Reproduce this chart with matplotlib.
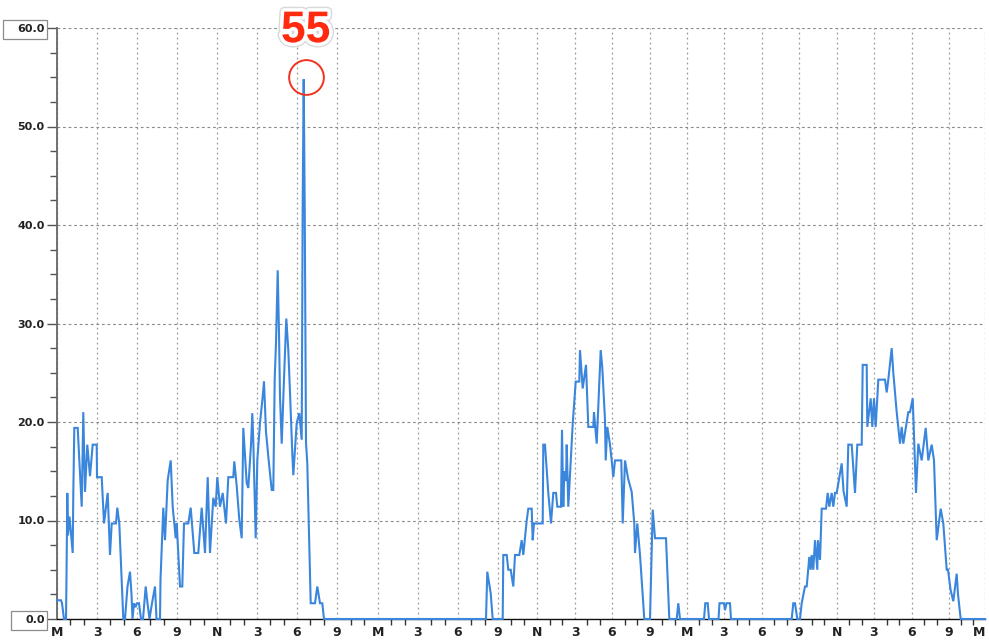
import numpy as np
import matplotlib
matplotlib.use("Agg")
import matplotlib.pyplot as plt
import matplotlib.patheffects as pe
from matplotlib.path import Path

# ---- data: sample index (irregularly sampled over 3 days) and values ----
sample_idx = [
    0, 4, 5, 7, 9, 9.5, 10.3, 11, 12.5, 15.7, 16.3, 17.3, 20.7, 23, 24.7, 26.3, 28, 30.3, 33, 35.7,
    39.7, 40, 44.7, 47, 50.7, 53, 54.7, 59, 60.3, 62.3, 66.3, 68, 70.5, 73, 74.5, 75.5, 77, 78.5, 80, 82,
    84, 86, 88.7, 90.5, 92.5, 95, 98, 99.5, 103, 103.5, 106.3, 108, 110.7, 113.7, 115.7, 118.7, 119.7,
    123, 125.3, 127, 131.3, 133.7, 137.3, 141.3, 144.7, 148, 150.7, 153, 156.3, 158.7, 160.3, 163,
    165.7, 169, 171.3, 176.3, 177.3, 179.7, 182.3, 184.7, 186.3, 189.7, 191.3, 194, 195.3, 196.3, 198.7,
    200.3, 203, 205.7, 207, 209, 211.3, 214.7, 216.3, 217.7, 219, 220.7, 222, 223, 224.7, 227, 229.3,
    231.3, 233, 235.3, 236.3, 239.7, 242.3, 244.7, 245.7, 246.7, 247.7, 248, 249, 250.3, 252.3, 253.7,
    258, 260.3, 263, 265.3, 267, 429, 430.3, 432.3, 433.7, 435.7, 445.7, 446.3, 449.7, 451.3, 453.7,
    456.3, 458, 462.3, 464.7, 466.3, 469.7, 471.3, 474.7, 475.7, 477, 485.7, 486.3, 488, 491.3, 494,
    496.3, 499, 500.3, 504, 505, 506.3, 507.3, 509, 509.7, 511.3, 515.7, 518.7, 522.3, 523, 525.7, 529,
    531.3, 536.3, 537, 539.7, 543.7, 545.3, 548, 548.7, 550.3, 553, 554.7, 556.3, 558, 564.3, 565.7,
    568, 571, 574.7, 577.3, 578, 580.3, 583, 587.3, 593, 595.7, 598, 609, 612.3, 619.7, 621.3, 623,
    647, 648.3, 650.7, 652, 661.5, 662.5, 667, 668, 669.5, 673, 674, 734.7, 736.3, 738, 740.3, 743,
    744.7, 748, 749.7, 752.3, 753.7, 754.7, 756.3, 758, 760.3, 761, 763, 764.7, 769, 770.7, 772.3,
    774.7, 776.3, 778, 779.7, 784.7, 786.5, 789.7, 791.3, 794.7, 798, 800.3, 804.7, 805.7, 809.7,
    810.3, 813.7, 815.3, 817, 818.7, 821.3, 828, 829.7, 831.3, 834.7, 836.3, 839.7, 843, 844.7, 846.3,
    849, 851.3, 853, 855.7, 859, 861.3, 864.7, 868.7, 871.3, 874.7, 877, 879.7, 883.7, 886.3, 889.7,
    891, 893.5, 896.3, 899.7, 901, 903.7, 928,
]
values = [
    1.9, 1.9, 1.6, 0, 0, 4.3, 12.8, 8.5, 10.4, 6.7, 12.8, 19.4, 19.4, 14.8, 11.4, 21.0, 12.9, 17.7, 14.5, 17.7,
    17.7, 14.4, 14.4, 9.7, 12.8, 6.5, 9.7, 9.7, 11.3, 9.7, 0, 0, 3.3, 4.8, 2.5, 0, 1.6, 1.2, 1.6, 1.6,
    0, 0, 3.3, 1.6, 0, 1.6, 3.3, 0, 0, 4.0, 11.3, 8.0, 14.1, 16.1, 11.4, 8.2, 9.7,
    3.3, 3.3, 9.7, 9.7, 11.3, 6.7, 6.7, 11.3, 6.7, 14.4, 6.7, 12.3, 11.4, 14.4, 11.4,
    12.8, 9.7, 14.4, 14.4, 16.0, 13.5, 10.1, 8.2, 19.4, 13.8, 13.3, 17.7, 20.9, 18.0, 8.2,
    16.1, 19.9, 22.6, 24.1, 19.0, 16.5, 13.1, 13.1, 24.4, 28.0, 35.4, 29.0, 22.6, 17.8, 24.4, 30.5,
    27.3, 23.0, 16.8, 14.6, 19.9, 20.9, 18.2, 42.5, 54.8, 42.0, 36.1, 17.9, 15.8, 7.3, 1.6,
    1.6, 3.3, 1.6, 1.6, 0, 0, 4.8, 3.5, 2.6, 0, 0, 6.5, 6.5, 5.0,
    5.0, 3.3, 6.5, 6.5, 8.0, 6.5, 10.0, 11.2, 11.2, 8.0, 9.7, 9.7, 17.7, 17.7, 12.8,
    9.7, 12.8, 12.8, 11.4, 11.4, 19.2, 11.4, 15.0, 14.0, 17.7, 11.4, 19.8, 24.1, 24.1, 27.3, 23.4,
    25.8, 19.5, 19.5, 21.0, 17.8, 27.3, 25.5, 20.2, 16.1, 19.5, 17.7, 16.1, 14.4, 16.1, 16.1, 9.7,
    16.1, 14.3, 12.9, 9.7, 6.7, 9.7, 6.5, 0, 0, 11.1, 8.2, 8.2, 0, 0, 1.6, 0,
    0, 1.6, 1.6, 0, 0, 1.6, 1.6, 0.9, 1.6, 1.6, 0, 0, 1.6, 1.6, 0, 0,
    1.6, 3.3, 3.3, 6.3, 5.0, 6.5, 5.0, 8.0, 5.0, 8.0, 6.0, 11.2, 11.2, 12.8, 11.4,
    12.8, 11.4, 12.8, 12.8, 15.8, 13.0, 11.4, 17.7, 17.7, 12.8, 17.7, 17.7, 25.8, 25.8, 19.5,
    22.4, 19.5, 22.4, 19.5, 24.3, 24.3, 23.0, 24.3, 27.5, 25.0, 21.0, 17.8, 19.5, 17.8, 19.5,
    21.0, 21.0, 22.4, 12.8, 17.8, 16.1, 19.4, 16.1, 17.7, 16.1, 8.0, 11.2, 9.7, 5.0, 5.0,
    3.0, 1.8, 4.6, 2.5, 0, 0,
]

# x tick positions (sample index where each hour label falls) and labels
tick_positions = [0, 40, 80, 120, 160, 200, 240, 280, 321, 361, 401, 441, 480,
                  518, 555, 593, 630, 667, 705, 742, 780, 817, 855, 892, 928]
tick_labels = ['M', '3', '6', '9', 'N', '3', '6', '9',
               'M', '3', '6', '9', 'N', '3', '6', '9',
               'M', '3', '6', '9', 'N', '3', '6', '9', 'M']
y_ticks = [0, 10, 20, 30, 40, 50, 60]
peak_label = "55"

# ---- figure ----
W, H = 989, 641
fig = plt.figure(figsize=(W / 100, H / 100), dpi=100)
ax = fig.add_axes([57 / W, 22 / H, 928 / W, 591 / H])

line_color = '#3a86dc'
ax.plot(sample_idx, values, color=line_color, lw=1.5, zorder=5, clip_on=False,
        solid_joinstyle='miter')

ax.set_xlim(tick_positions[0], tick_positions[-1])
ax.set_ylim(0, 60)

ax.set_xticks(tick_positions)
ax.set_xticklabels(tick_labels)
minor_x = []
for a, b in zip(tick_positions[:-1], tick_positions[1:]):
    minor_x += list(np.linspace(a, b, 4)[1:3])
ax.set_xticks(minor_x, minor=True)
ax.set_yticks(y_ticks)
ax.set_yticklabels([f"{v:.1f}" for v in y_ticks])
ax.set_yticks(np.arange(0, 60.1, 2.5), minor=True)

ax.grid(True, which='major', axis='x', color='#9a9a9a', lw=0.9, linestyle=(0, (1.5, 2.5)))
ax.grid(True, which='major', axis='y', color='#8a8a8a', lw=0.8, linestyle=(0, (2.5, 2.5)))
ax.set_axisbelow(True)

for s in ['top', 'right']:
    ax.spines[s].set_visible(False)
ax.spines['left'].set_color('#666666')
ax.spines['left'].set_linewidth(1.3)
ax.spines['bottom'].set_color('#111111')
ax.spines['bottom'].set_linewidth(1.0)

ax.tick_params(axis='x', which='major', length=0, pad=5, labelsize=9,
               labelcolor='#222222')
ax.tick_params(axis='x', which='minor', length=4, width=1, color='#333333')
ax.tick_params(axis='y', which='major', length=7, width=1, color='#555555',
               pad=2, labelsize=8, labelcolor='#222222')
ax.tick_params(axis='y', which='minor', length=5, width=1, color='#555555')
for lab in ax.get_xticklabels() + ax.get_yticklabels():
    lab.set_fontweight('bold')
# keep the final "M" inside the canvas
ax.get_xticklabels()[-1].set_horizontalalignment('right')


# boxed end labels (0.0 and 60.0)
def side_box(x0, y0, width, height, mutation_size):
    left, right, vpad = 14.0, 2.5, 4.5
    xa, xb = x0 - left, x0 + width + right
    ya, yb = y0 - vpad, y0 + height + vpad
    return Path([(xa, ya), (xb, ya), (xb, yb), (xa, yb), (xa, ya)],
                closed=True)


ylabels = ax.get_yticklabels()
for idx in (0, len(ylabels) - 1):
    ylabels[idx].set_bbox(dict(boxstyle=side_box, fc='white', ec='#8c8c8c', lw=0.9))

# peak annotation
imax = int(np.argmax(values))
px, py = sample_idx[imax] + 2, round(values[imax])
ax.plot([px], [py], marker='o', ms=25, mfc='none', mec='#f2321e', mew=1.4,
        zorder=6, clip_on=False)
ax.annotate(peak_label, xy=(px, py), xytext=(0, 33.5), textcoords='offset points',
            ha='center', va='center', fontsize=32, fontweight='bold',
            family=['Liberation Sans', 'DejaVu Sans'], color='#ff2a10', zorder=7,
            path_effects=[pe.Stroke(linewidth=7, foreground='#d9d9d9'),
                          pe.Stroke(linewidth=5, foreground='white'),
                          pe.Normal()])

fig.savefig('out.png', dpi=100)
